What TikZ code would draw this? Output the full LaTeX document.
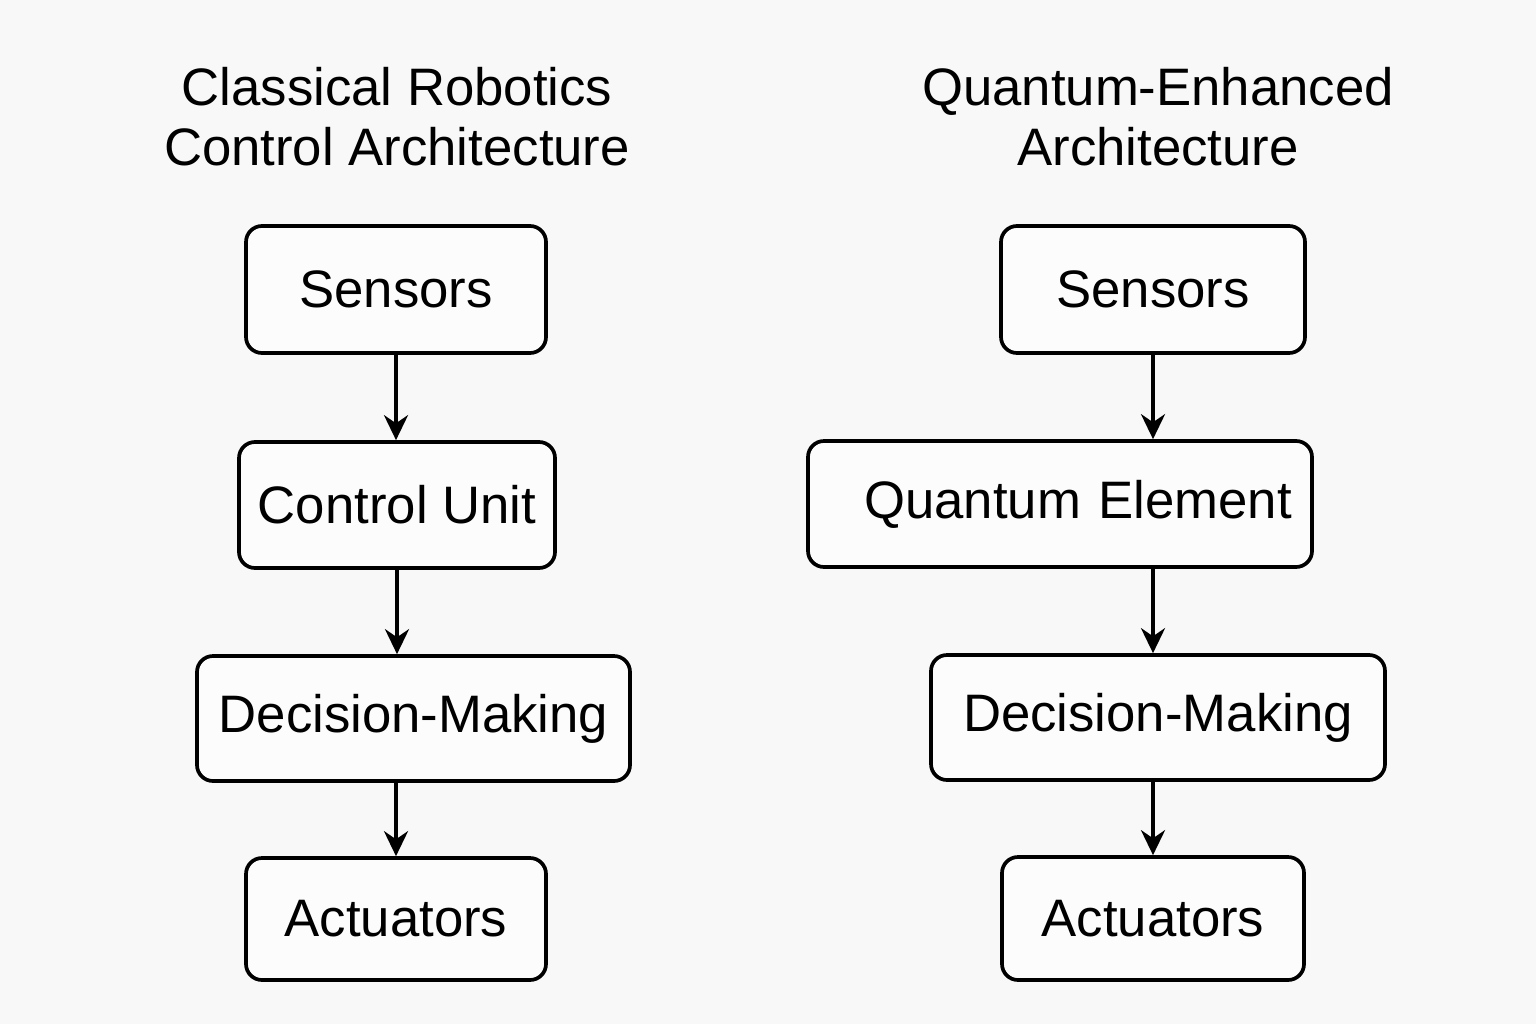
\documentclass[tikz,border=0pt]{standalone}
\usepackage{fontspec}
\setmainfont{Liberation Sans}
\usetikzlibrary{arrows.meta}

\definecolor{bgpaper}{HTML}{F8F8F8}

\begin{document}
\begin{tikzpicture}[line width=1.05pt,
    block/.style={draw, rounded corners=0.16cm, fill=white!60!bgpaper, inner sep=0pt,
        font=\fontsize{15}{18}\selectfont},
    flow/.style={-{Stealth[length=0.25cm, width=0.24cm]}},
    heading/.style={align=center, font=\fontsize{15}{17}\selectfont}]
        \fill[bgpaper] (0,0) rectangle (15.36,10.24);
        \useasboundingbox (0,0) rectangle (15.36,10.24);

        % left column
        \node[heading] (ltitle) at (3.97, 9.07) {Classical Robotics\\Control Architecture};
        \node[block, minimum width=3.00cm, minimum height=1.27cm] (lsens) at (3.96, 7.345) {Sensors};
        \node[block, minimum width=3.16cm, minimum height=1.26cm] (lctrl) at (3.97, 5.19) {Control Unit};
        \node[block, minimum width=4.33cm, minimum height=1.25cm] (ldec) at (4.135, 3.055) {Decision-Making};
        \node[block, minimum width=3.00cm, minimum height=1.22cm] (lact) at (3.96, 1.05) {Actuators};

        \draw[flow] (lsens.south) -- (lsens.south |- lctrl.north);
        \draw[flow] (lctrl.south) -- (lctrl.south |- ldec.north);
        \draw[flow] (lact.north |- ldec.south) -- (lact.north);

        % right column
        \node[heading] (rtitle) at (11.58, 9.07) {Quantum-Enhanced\\Architecture};
        \node[block, text width=3.04cm, align=center, minimum height=1.27cm] (rsens) at (11.53, 7.345) {Sensors};
        \node[block, text width=4.64cm, inner xsep=0.2cm, align=right, minimum height=1.26cm] (rquant) at (10.60, 5.20) {Quantum Element};
        \node[block, minimum width=4.54cm, minimum height=1.25cm] (rdec) at (11.58, 3.065) {Decision-Making};
        \node[block, minimum width=3.02cm, minimum height=1.23cm] (ract) at (11.53, 1.055) {Actuators};

        \draw[flow] (rsens.south) -- (rsens.south |- rquant.north);
        \draw[flow] (rsens.south |- rquant.south) -- (rsens.south |- rdec.north);
        \draw[flow] (ract.north |- rdec.south) -- (ract.north);
\end{tikzpicture}
\end{document}
